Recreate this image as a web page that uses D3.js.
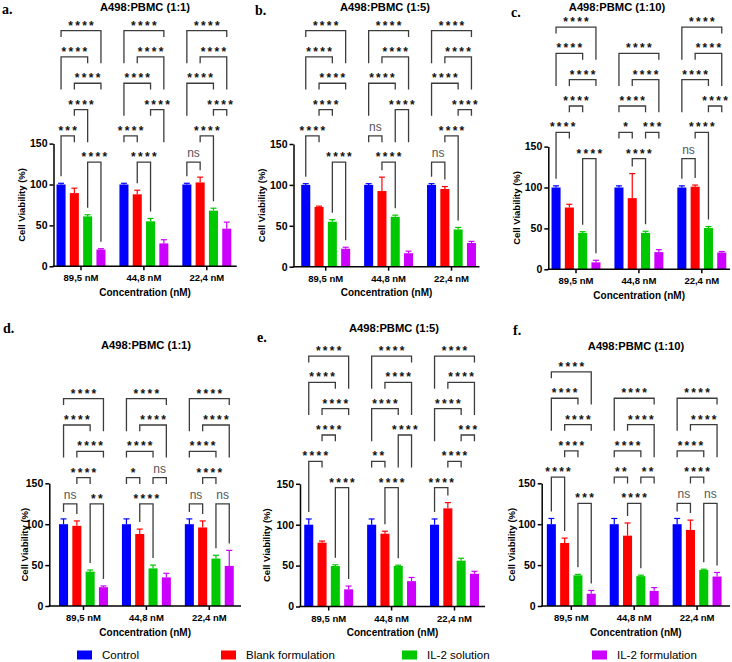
<!DOCTYPE html>
<html>
<head>
<meta charset="utf-8">
<script src="https://cdn.jsdelivr.net/npm/d3@7"></script>
<style>
  body { margin: 0; background: #fff; }
  svg { display: block; font-family: Arial, "Liberation Sans", sans-serif; }
</style>
</head>
<body>
<div id="chart"></div>
<script>
const groups = ["89,5 nM", "44,8 nM", "22,4 nM"];
const series = ["Control", "Blank formulation", "IL-2 solution", "IL-2 formulation"];
const seriesColors = ["#0000ff", "#ff0000", "#00c800", "#cc00ff"];
const yTicks = [0, 50, 100, 150];
const panelLetters = ["a.", "b.", "c.", "d.", "e.", "f."];
const panelTitles = ["A498:PBMC (1:1)", "A498:PBMC (1:5)", "A498:PBMC (1:10)",
                     "A498:PBMC (1:1)", "A498:PBMC (1:5)", "A498:PBMC (1:10)"];

// mean and error (SD, drawn upward) per group, per series
const meansA = [[100, 89.5, 61, 20.5], [100, 88, 55, 28], [100, 102.5, 68, 46]];
const errsA  = [[1.5, 6, 2, 1], [1.5, 5, 3.5, 4.5], [1.5, 6.5, 3, 8]];
const meansB = [[100, 73, 55, 22], [100, 92.5, 61, 16.5], [100, 95, 45.5, 29]];
const errsB  = [[1.5, 1, 2.5, 1.8], [1.5, 17, 2, 2.5], [1.5, 3, 2.5, 2]];
const meansC = [[100, 75.5, 44.5, 8.5], [100, 87, 44.5, 21], [100, 101, 50.5, 20.5]];
const errsC  = [[2, 4, 1.5, 2.5], [2, 30, 2, 3], [2, 2, 1.8, 1.2]];
const meansD = [[100, 98, 42, 23], [100, 88, 46, 35], [100, 96, 58, 49]];
const errsD  = [[6.5, 6, 2, 1.5], [6.5, 6, 4, 5], [6.5, 8, 4, 19]];
const meansE = [[100, 78, 49.5, 21], [100, 89, 49.5, 31], [100, 120, 56, 40]];
const errsE  = [[7, 2, 1.5, 4], [7, 3, 1, 4.5], [7, 7, 3, 3]];
const meansF = [[100, 77, 37.5, 15], [100, 86, 36.5, 18.5], [100, 93, 44, 36]];
const errsF  = [[7, 6, 1.2, 4], [7, 15.5, 1.2, 4], [7, 12, 1, 5]];

// comparisons per group: [series i, series j, label, stacking level (1 = top)]
const compsA = [
  [[0,3,"****",1],[0,2,"****",2],[1,3,"****",3],[1,2,"****",4],[0,1,"***",5],[2,3,"****",6]],
  [[0,3,"****",1],[1,3,"****",2],[0,2,"****",3],[2,3,"****",4],[0,1,"****",5],[1,2,"****",6]],
  [[0,3,"****",1],[1,3,"****",2],[0,2,"****",3],[2,3,"****",4],[1,2,"****",5],[0,1,"ns",6]]
];
const compsB = [
  [[0,3,"****",1],[0,2,"****",2],[1,3,"****",3],[1,2,"****",4],[0,1,"****",5],[2,3,"****",6]],
  [[0,3,"****",1],[1,3,"****",2],[0,2,"****",3],[2,3,"****",4],[0,1,"ns",5],[1,2,"****",6]],
  [[0,3,"****",1],[1,3,"****",2],[0,2,"****",3],[2,3,"****",4],[1,2,"****",5],[0,1,"ns",6]]
];
const compsC = [
  [[0,3,"****",1],[0,2,"****",2],[1,3,"****",3],[1,2,"****",4],[0,1,"****",5],[2,3,"****",6]],
  [[0,3,"****",2],[1,3,"****",3],[0,2,"****",4],[0,1,"*",5],[2,3,"***",5],[1,2,"****",6]],
  [[0,3,"****",1],[1,3,"****",2],[0,2,"****",3],[2,3,"****",4],[1,2,"****",5],[0,1,"ns",6]]
];
const compsD = [
  [[0,3,"****",1],[0,2,"****",2],[1,3,"****",3],[1,2,"****",4],[0,1,"ns",5],[2,3,"**",5]],
  [[0,3,"****",1],[1,3,"****",2],[0,2,"****",3],[0,1,"*",4],[2,3,"ns",4],[1,2,"****",5]],
  [[0,3,"****",1],[1,3,"****",2],[0,2,"****",3],[1,2,"****",4],[0,1,"ns",5],[2,3,"ns",5]]
];
const compsE = [
  [[0,3,"****",1],[0,2,"****",2],[1,3,"****",3],[1,2,"****",4],[0,1,"****",5],[2,3,"****",6]],
  [[0,3,"****",1],[1,3,"****",2],[0,2,"****",3],[2,3,"****",4],[0,1,"**",5],[1,2,"****",6]],
  [[0,3,"****",1],[1,3,"****",2],[0,2,"****",3],[2,3,"***",4],[1,2,"****",5],[0,1,"****",6]]
];
const compsF = [
  [[0,3,"****",1],[0,2,"****",2],[1,3,"****",3],[1,2,"****",4],[0,1,"****",5],[2,3,"***",6]],
  [[0,3,"****",2],[1,3,"****",3],[0,2,"****",4],[0,1,"**",5],[2,3,"**",5],[1,2,"****",6]],
  [[0,3,"****",2],[1,3,"****",3],[0,2,"****",4],[1,2,"****",5],[0,1,"ns",6],[2,3,"ns",6]]
];

// layout of the six panels (pixels)
const panels = [
  {means: meansA, errs: errsA, comps: compsA, levels: 6, x: 53.5, first: 81, right: 236.7, y0: 266.3,
   titleX: 145, titleY: 11, letterX: 2, letterY: 14, ylabX: 22},
  {means: meansB, errs: errsB, comps: compsB, levels: 6, x: 293.5, first: 325.7, right: 479.5, y0: 266.7,
   titleX: 385, titleY: 10.5, letterX: 255, letterY: 15, ylabX: 262},
  {means: meansC, errs: errsC, comps: compsC, levels: 6, x: 548.3, first: 576, right: 730, y0: 269.3,
   titleX: 617, titleY: 10.5, letterX: 511, letterY: 17, ylabX: 517},
  {means: meansD, errs: errsD, comps: compsD, levels: 5, x: 49.3, first: 83.5, right: 241, y0: 606,
   titleX: 146, titleY: 349, letterX: 3, letterY: 333, ylabX: 25},
  {means: meansE, errs: errsE, comps: compsE, levels: 6, x: 300, first: 328.7, right: 485, y0: 606.5,
   titleX: 394, titleY: 332, letterX: 257, letterY: 342, ylabX: 267},
  {means: meansF, errs: errsF, comps: compsF, levels: 6, x: 541.7, first: 571.3, right: 730, y0: 606,
   titleX: 636, titleY: 350, letterX: 513, letterY: 335, ylabX: 512}
];

const width = 732, height = 662;
const step = 62.9;          // group spacing
const pxPerUnit = 0.818;    // y scale
const levelGap = 26.3;      // bracket spacing
const bracketColor = "#3c3c3c";

const svg = d3.select("#chart").append("svg")
    .attr("width", width)
    .attr("height", height)
    .attr("viewBox", [0, 0, width, height]);

function labelWidth(label) {
  return label === "ns" ? 11 : label.length * 7;
}

function drawPanel(p, pi) {
  const g = svg.append("g");

  const y = d3.scaleLinear()
      .domain([0, 150])
      .range([p.y0, p.y0 - 150 * pxPerUnit]);

  const x = d3.scaleBand()
      .domain(groups)
      .range([p.first - step / 2, p.first + step * 2.5]);

  const x1 = d3.scaleBand()
      .domain(d3.range(series.length))
      .range([-26.6, 26.6])
      .paddingInner(0.32)
      .paddingOuter(0.16);

  const cx = (gi, si) => x(groups[gi]) + x.bandwidth() / 2 + x1(si) + x1.bandwidth() / 2;

  // bars
  const cells = [];
  groups.forEach((grp, gi) => series.forEach((s, si) => {
    cells.push({gi, si, mean: p.means[gi][si], err: p.errs[gi][si]});
  }));

  g.selectAll("rect.bar")
    .data(cells)
    .join("rect")
      .attr("class", "bar")
      .attr("x", d => cx(d.gi, d.si) - x1.bandwidth() / 2)
      .attr("y", d => y(d.mean))
      .attr("width", x1.bandwidth())
      .attr("height", d => y(0) - y(d.mean))
      .attr("fill", d => seriesColors[d.si]);

  // error bars (upper only)
  const eb = g.selectAll("g.err")
    .data(cells)
    .join("g")
      .attr("class", "err")
      .attr("stroke", d => seriesColors[d.si])
      .attr("stroke-width", 1.2);
  eb.append("line")
      .attr("x1", d => cx(d.gi, d.si)).attr("x2", d => cx(d.gi, d.si))
      .attr("y1", d => y(d.mean)).attr("y2", d => y(d.mean + d.err));
  eb.append("line")
      .attr("x1", d => cx(d.gi, d.si) - 3).attr("x2", d => cx(d.gi, d.si) + 3)
      .attr("y1", d => y(d.mean + d.err)).attr("y2", d => y(d.mean + d.err));

  // y axis
  const yAxis = g.append("g")
      .attr("transform", `translate(${p.x},0)`)
      .call(d3.axisLeft(y).tickValues(yTicks).tickSize(4).tickSizeOuter(0).tickPadding(2));
  yAxis.selectAll("path, line").attr("stroke", "#000").attr("stroke-width", 1.5);
  yAxis.selectAll("text")
      .attr("fill", "#000")
      .style("font-size", "10.5px")
      .style("font-weight", "bold");

  // x axis
  const xAxis = g.append("g")
      .attr("transform", `translate(0,${p.y0})`)
      .call(d3.axisBottom(x).tickSize(4).tickPadding(4.3));
  xAxis.select(".domain").remove();
  xAxis.selectAll("line").attr("stroke", "#000").attr("stroke-width", 1.5);
  xAxis.selectAll("text")
      .attr("fill", "#000")
      .style("font-size", "9.5px")
      .style("font-weight", "bold");
  g.append("line")
      .attr("x1", p.x - 0.75).attr("x2", p.right)
      .attr("y1", p.y0).attr("y2", p.y0)
      .attr("stroke", "#000")
      .attr("stroke-width", 1.5);

  // axis titles
  g.append("text")
      .attr("transform", `translate(${p.ylabX + 3.4},${(y(0) + y(150)) / 2}) rotate(-90)`)
      .attr("text-anchor", "middle")
      .style("font-size", "9.5px")
      .style("font-weight", "bold")
      .text("Cell Viability (%)");

  g.append("text")
      .attr("x", (p.x + p.right) / 2)
      .attr("y", p.y0 + 29.5)
      .attr("text-anchor", "middle")
      .style("font-size", "10px")
      .style("font-weight", "bold")
      .text("Concentration (nM)");

  // title and letter
  g.append("text")
      .attr("x", p.titleX)
      .attr("y", p.titleY)
      .attr("text-anchor", "middle")
      .style("font-size", "11.2px")
      .style("font-weight", "bold")
      .text(panelTitles[pi]);

  g.append("text")
      .attr("x", p.letterX)
      .attr("y", p.letterY)
      .style("font-family", "'Liberation Serif', 'Times New Roman', serif")
      .style("font-size", "14px")
      .style("font-weight", "bold")
      .text(panelLetters[pi]);

  // significance brackets
  let topPx = Infinity;
  cells.forEach(d => { topPx = Math.min(topPx, y(d.mean + d.err)); });
  const base = topPx - 15;
  const levelY = k => base - (p.levels - k) * levelGap;

  p.comps.forEach((comps, gi) => {
    // a leg drops until it meets the label of a lower bracket, else stops above the data
    const legEnd = (si, lvl) => {
      const xl = cx(gi, si);
      let hit = null;
      comps.forEach(c => {
        if (c[3] <= lvl) return;
        const tc = (cx(gi, c[0]) + cx(gi, c[1])) / 2;
        const half = labelWidth(c[2]) / 2 + 7;
        if (Math.abs(xl - tc) <= half && (hit === null || c[3] < hit)) hit = c[3];
      });
      if (hit !== null) return levelY(hit) - 20;
      return y(p.means[gi][si] + p.errs[gi][si]) - 7;
    };

    comps.forEach(c => {
      const [i, j, label, lvl] = c;
      const xi = cx(gi, i), xj = cx(gi, j), ly = levelY(lvl);
      const path = d3.path();
      path.moveTo(xi, legEnd(i, lvl));
      path.lineTo(xi, ly);
      path.lineTo(xj, ly);
      path.lineTo(xj, legEnd(j, lvl));
      g.append("path")
          .attr("d", path.toString())
          .attr("fill", "none")
          .attr("stroke", bracketColor)
          .attr("stroke-width", 1.3);

      const isNs = label === "ns";
      g.append("text")
          .attr("x", (xi + xj) / 2 + (isNs ? 0 : 1.15))
          .attr("y", isNs ? ly - 5 : ly - 1)
          .attr("text-anchor", "middle")
          .attr("fill", isNs ? "#555" : "#111")
          .style("font-size", "12px")
          .style("font-weight", isNs ? "normal" : "bold")
          .style("letter-spacing", isNs ? "0px" : "2.3px")
          .text(label);
    });
  });
}

panels.forEach(drawPanel);

// legend
const legendX = [77, 221, 402, 592];
const legend = svg.append("g")
  .selectAll("g")
  .data(series)
  .join("g")
    .attr("transform", (d, i) => `translate(${legendX[i]},650.5)`);
legend.append("rect")
    .attr("width", 15)
    .attr("height", 9)
    .attr("fill", (d, i) => seriesColors[i]);
legend.append("text")
    .attr("x", 25)
    .attr("y", 8.8)
    .style("font-size", "11.5px")
    .text(d => d);
</script>
</body>
</html>
